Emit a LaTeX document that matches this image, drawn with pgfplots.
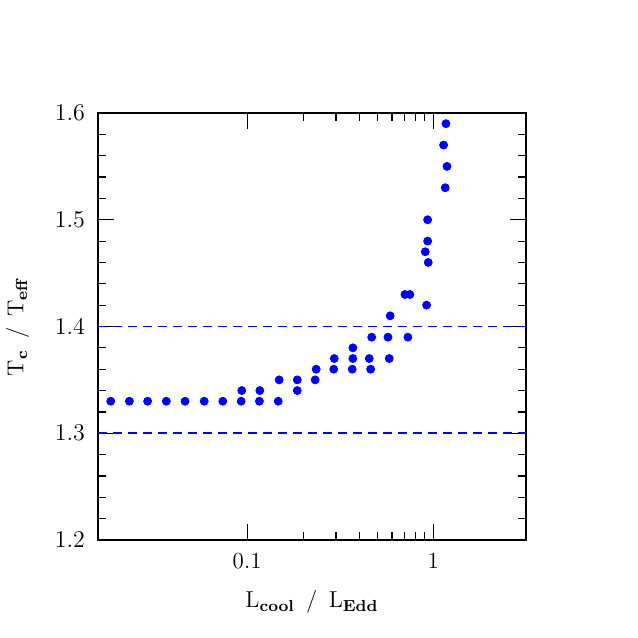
\documentclass[border=0pt]{standalone}
\usepackage{pgfplots}
\pgfplotsset{compat=1.18}
\definecolor{pureblue}{rgb}{0,0,1}
\begin{document}
\begin{tikzpicture}
\path[use as bounding box] (-49pt,-49pt) rectangle (270pt,270pt);
\begin{axis}[
  at={(0,0)}, anchor=south west,
  scale only axis, width=214pt, height=213.5pt,
  xmode=log, xmin=0.0158, xmax=3.15,
  ymin=1.2, ymax=1.6,
  axis line style={line width=0.6pt},
  tick style={line width=0.6pt, black},
  tick align=inside,
  major tick length=8pt, minor tick length=4pt,
  xtick={0.1,1}, xticklabels={0.1,1},
  ytick={1.2,1.3,1.4,1.5,1.6},
  minor ytick={1.22,1.24,1.26,1.28,1.32,1.34,1.36,1.38,1.42,1.44,1.46,1.48,1.52,1.54,1.56,1.58},
  yticklabel style={xshift=-3pt, /pgf/number format/.cd, fixed, fixed zerofill, precision=1},
  xticklabel style={yshift=-3pt},
  ticklabel style={font=\fontsize{11.5}{13}\selectfont},
  label style={font=\fontsize{11.5}{13}\selectfont},
  xlabel={L$_{\mathbf{cool}}$ \,/\, L$_{\mathbf{Edd}}$},
  ylabel={T$_{\mathbf{c}}$ \,/\, T$_{\mathbf{eff}}$},
  xlabel style={yshift=-4pt},
  ylabel style={yshift=6pt},
  clip=false,
]
\addplot[pureblue, dash pattern=on 4.5pt off 3pt, line width=0.8pt] coordinates {(0.0158,1.3) (3.15,1.3)};
\addplot[pureblue, dash pattern=on 4.5pt off 3pt, line width=0.8pt] coordinates {(0.0158,1.4) (3.15,1.4)};
\addplot[only marks, mark=*, mark size=2pt, pureblue, mark options={fill=pureblue, draw=pureblue}] coordinates {
(0.0185,1.33) (0.0233,1.33) (0.0292,1.33) (0.0368,1.33) (0.0464,1.33)
(0.0588,1.33) (0.0740,1.33) (0.0929,1.33) (0.1164,1.33) (0.1469,1.33)
(0.0936,1.34) (0.117,1.34) (0.186,1.34)
(0.1486,1.35) (0.186,1.35) (0.232,1.35)
(0.235,1.36) (0.292,1.36) (0.367,1.36) (0.461,1.36)
(0.294,1.37) (0.370,1.37) (0.453,1.37) (0.580,1.37)
(0.370,1.38)
(0.467,1.39) (0.571,1.39) (0.731,1.39)
(0.587,1.41)
(0.921,1.42)
(0.705,1.43) (0.749,1.43)
(0.940,1.46) (0.906,1.47) (0.933,1.48) (0.933,1.50)
(1.160,1.53) (1.185,1.55) (1.137,1.57) (1.170,1.59)
};
\end{axis}
\end{tikzpicture}
\end{document}
